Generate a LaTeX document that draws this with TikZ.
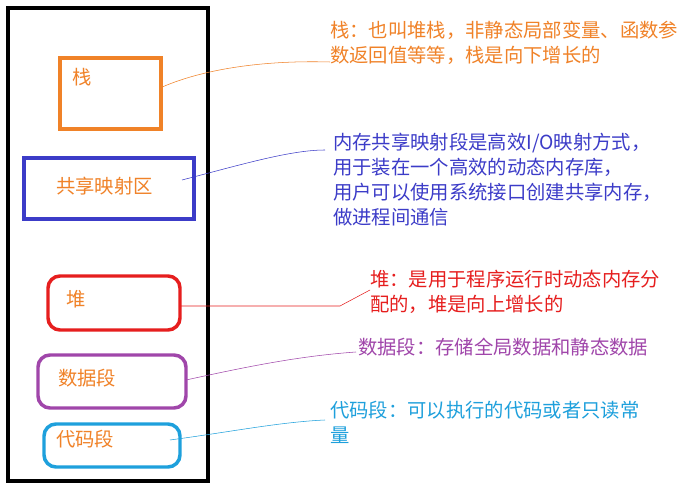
\documentclass[tikz,border=0pt]{standalone}
\usepackage{fontspec}
\setmainfont{Noto Sans CJK SC}
\begin{document}
\begin{tikzpicture}[x=0.75pt,y=-0.75pt,
 lbl/.style={font=\fontsize{14.5}{18.75}\selectfont,anchor=north west,align=left,inner sep=0pt},
 box/.style={line width=2.6pt}]
\useasboundingbox[fill=white] (0,0) rectangle (694,484);
\definecolor{orn}{RGB}{240,130,40}
\definecolor{blu}{RGB}{60,60,200}
\definecolor{rd}{RGB}{230,30,30}
\definecolor{pur}{RGB}{160,70,170}
\definecolor{cy}{RGB}{30,160,220}
\draw[line width=3pt] (8,8) rectangle (208,481);
\draw[box,orn] (60,58) rectangle (161,129);
\node[lbl,text=orn] (s) at (72,68) {栈};
\draw[box,blu] (24,158) rectangle (194,219);
\node[lbl,text=orn] (g) at (56,177) {共享映射区};
\draw[box,rd,rounded corners=9pt] (48,276) rectangle (180,330);
\node[lbl,text=orn] (d) at (66,290) {堆};
\draw[box,pur,rounded corners=9pt] (38,355) rectangle (186,408);
\node[lbl,text=orn] (sj) at (58,369) {数据段};
\draw[box,cy,rounded corners=9pt] (44,424) rectangle (180,467);
\node[lbl,text=orn] (dm) at (56,430) {代码段};
\node[lbl,text=orn] (t1) at (330,21) {栈：也叫堆栈，非静态局部变量、函数参\\数返回值等等，栈是向下增长的};
\node[lbl,text=blu] (t2) at (333,133) {内存共享映射段是高效I/O映射方式，\\用于装在一个高效的动态内存库，\\用户可以使用系统接口创建共享内存，\\做进程间通信};
\node[lbl,text=rd] (t3) at (370,270) {堆：是用于程序运行时动态内存分\\配的，堆是向上增长的};
\node[lbl,text=pur] (t4) at (358,338) {数据段：存储全局数据和静态数据};
\node[lbl,text=cy] (t5) at (330,401) {代码段：可以执行的代码或者只读常\\量};
\coordinate (a1) at (160,88); \coordinate (a2) at (330,62);
\draw[orn] (a1) .. controls (200,70) and (260,60) .. (a2);
\coordinate (b1) at (182,180); \coordinate (b2) at (325,150);
\draw[blu] (b1) .. controls (240,165) and (290,150) .. (b2);
\coordinate (c1) at (180,306); \coordinate (c2) at (370,290);
\draw[rd] (c1) -- (340,306) -- (c2);
\coordinate (d1) at (186,380); \coordinate (d2) at (356,352);
\draw[pur] (d1) .. controls (250,366) and (300,356) .. (d2);
\coordinate (e1) at (170,440); \coordinate (e2) at (325,420);
\draw[cy] (e1) .. controls (230,432) and (280,422) .. (e2);
\end{tikzpicture}
\end{document}
